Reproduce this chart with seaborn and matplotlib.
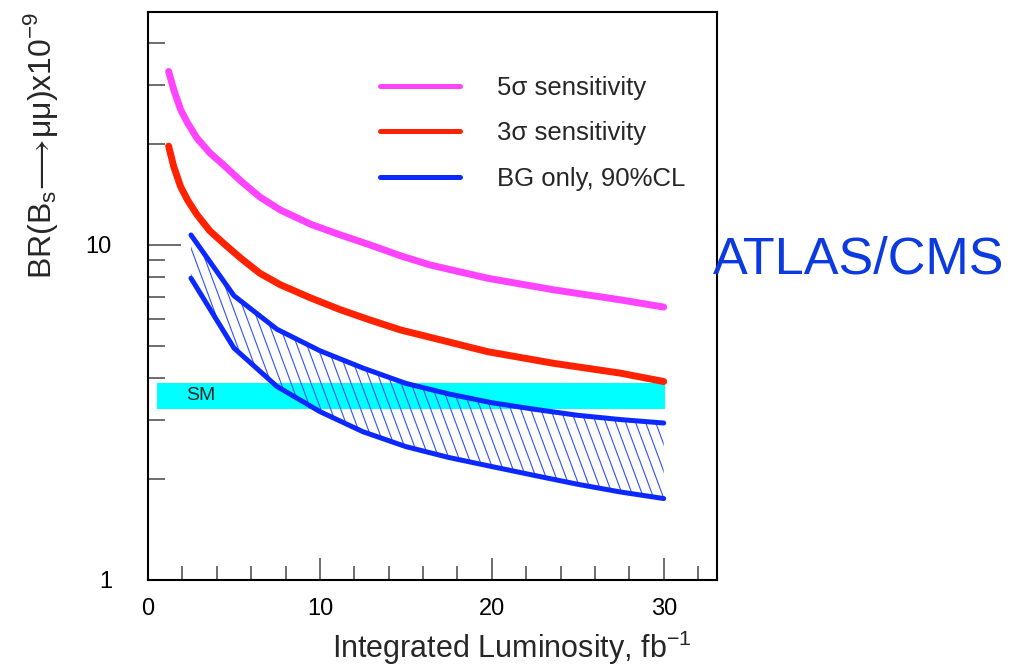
import numpy as np
import pandas as pd
import matplotlib
matplotlib.use('Agg')
import matplotlib.pyplot as plt
import seaborn as sns
from matplotlib.collections import LineCollection

# discovery sensitivity curves, BR in units of 1e-9
lumi_sig = [1.2, 1.5, 1.9, 2.3, 2.85, 3.6, 4.4, 5.4, 6.5, 7.7, 9.5, 11.2, 12.9, 14.7, 16.4,
            19.75, 23.6, 27.5, 30]
br_5sigma = [32.9, 29.0, 25.3, 23.1, 20.8, 18.8, 17.3, 15.5, 13.9, 12.7, 11.5, 10.7, 10.0,
             9.27, 8.71, 7.95, 7.34, 6.85, 6.52]
br_3sigma = [19.7, 17.1, 14.9, 13.6, 12.3, 11.0, 10.1, 9.12, 8.23, 7.6, 6.93, 6.4, 5.97,
             5.57, 5.30, 4.80, 4.43, 4.14, 3.91]

# background only, 90% CL band
lumi_bg = [2.5, 5, 7.5, 10, 12.5, 15, 17.5, 20, 22.5, 25, 27.5, 30]
bg_upper = [10.7, 7.05, 5.6, 4.83, 4.29, 3.86, 3.59, 3.38, 3.23, 3.10, 3.01, 2.94]
bg_lower = [7.95, 4.92, 3.78, 3.18, 2.77, 2.50, 2.32, 2.18, 2.05, 1.93, 1.83, 1.75]

# Standard Model prediction band
sm_lumi = [0.5, 30.1]
sm_low = 3.23
sm_high = 3.88

MAGENTA = '#FF44FF'
RED = '#FF2200'
BLUE = '#0A28FF'

sns.set_style('white')
plt.rcParams['font.family'] = ['Liberation Sans', 'DejaVu Sans']
plt.rcParams['mathtext.fontset'] = 'custom'
plt.rcParams['mathtext.rm'] = 'Liberation Sans'

fig = plt.figure(figsize=(10.15, 6.71), dpi=100)
ax = fig.add_axes([148 / 1015, 91 / 671, 569 / 1015, 568 / 671])

# SM band
ax.fill_between(sm_lumi, [sm_low] * 2, [sm_high] * 2, color='#00FFFF', linewidth=0, zorder=1)
ax.text(2.2, 3.56, 'SM', fontsize=14, va='center', ha='left', zorder=5)

# hatched BG band, drawn as steep lines clipped to the band
band = ax.fill_between(lumi_bg, bg_lower, bg_upper, facecolor='none', linewidth=0, zorder=2)
offsets = np.arange(-0.5, 1.05, 10 / 569)
segs = [[(c, 1.0), (c + 0.37, 0.0)] for c in offsets]
hatch = LineCollection(segs, colors='#3050FF', linewidths=0.8, transform=ax.transAxes, zorder=2)
hatch.set_clip_path(band.get_paths()[0], ax.transData)
ax.add_collection(hatch)

df5 = pd.DataFrame({'lumi': lumi_sig, 'br': br_5sigma})
df3 = pd.DataFrame({'lumi': lumi_sig, 'br': br_3sigma})
sns.lineplot(data=df5, x='lumi', y='br', ax=ax, color=MAGENTA, linewidth=5,
             label='5σ sensitivity', estimator=None, sort=False, zorder=4)
sns.lineplot(data=df3, x='lumi', y='br', ax=ax, color=RED, linewidth=5,
             label='3σ sensitivity', estimator=None, sort=False, zorder=4)
sns.lineplot(x=lumi_bg, y=bg_upper, ax=ax, color=BLUE, linewidth=3.6,
             label='BG only, 90%CL', estimator=None, sort=False, zorder=3)
sns.lineplot(x=lumi_bg, y=bg_lower, ax=ax, color=BLUE, linewidth=3.6,
             estimator=None, sort=False, zorder=3)

ax.set_yscale('log')
ax.set_ylim(1, 49.5)
ax.set_xlim(0, 33.1)

ax.set_xticks([0, 10, 20, 30])
ax.set_xticks(np.arange(2, 33, 2), minor=True)
ax.set_yticks([1, 10])
ax.set_yticklabels(['1', '10'])
ax.set_yticks([2, 3, 4, 5, 6, 7, 8, 9, 20, 30, 40], minor=True)
ax.yaxis.set_minor_formatter(matplotlib.ticker.NullFormatter())

ax.tick_params(axis='both', which='both', direction='in', left=True, bottom=True,
               top=False, right=False, colors='#555555', labelcolor='black')
ax.tick_params(axis='y', which='major', length=24, width=1.2, pad=26, labelsize=17)
ax.tick_params(axis='y', which='minor', length=12, width=1.2)
ax.tick_params(axis='x', which='major', length=16, width=1.2, pad=13, labelsize=17)
ax.tick_params(axis='x', which='minor', length=10, width=1.2)

for s in ax.spines.values():
    s.set_color('black')
    s.set_linewidth(1.5)

ax.set_xlabel(r'Integrated Luminosity, fb$^{\mathregular{-1}}$', fontsize=22, ha='right')
ax.xaxis.set_label_coords((692 - 148) / 569, -0.085)
ax.set_ylabel(r'BR(B$_{\mathregular{s}}\!\longrightarrow\!$μμ)x10$^{\mathregular{-9}}$',
              fontsize=23, ha='right')
ax.yaxis.set_label_coords(-0.155, 1.0)

leg = ax.legend(loc='upper left', bbox_to_anchor=(0.408, 0.888), frameon=False, fontsize=18.5,
                handlelength=3.1, handletextpad=1.45, labelspacing=0.85,
                borderpad=0, borderaxespad=0)
for ln in leg.get_lines():
    ln.set_linewidth(3.6)

fig.text(713 / 1015, 1 - 260 / 671, 'ATLAS/CMS', color='#0A3AE0', fontsize=37.5,
         ha='left', va='center')

fig.savefig('out.png', dpi=100)
